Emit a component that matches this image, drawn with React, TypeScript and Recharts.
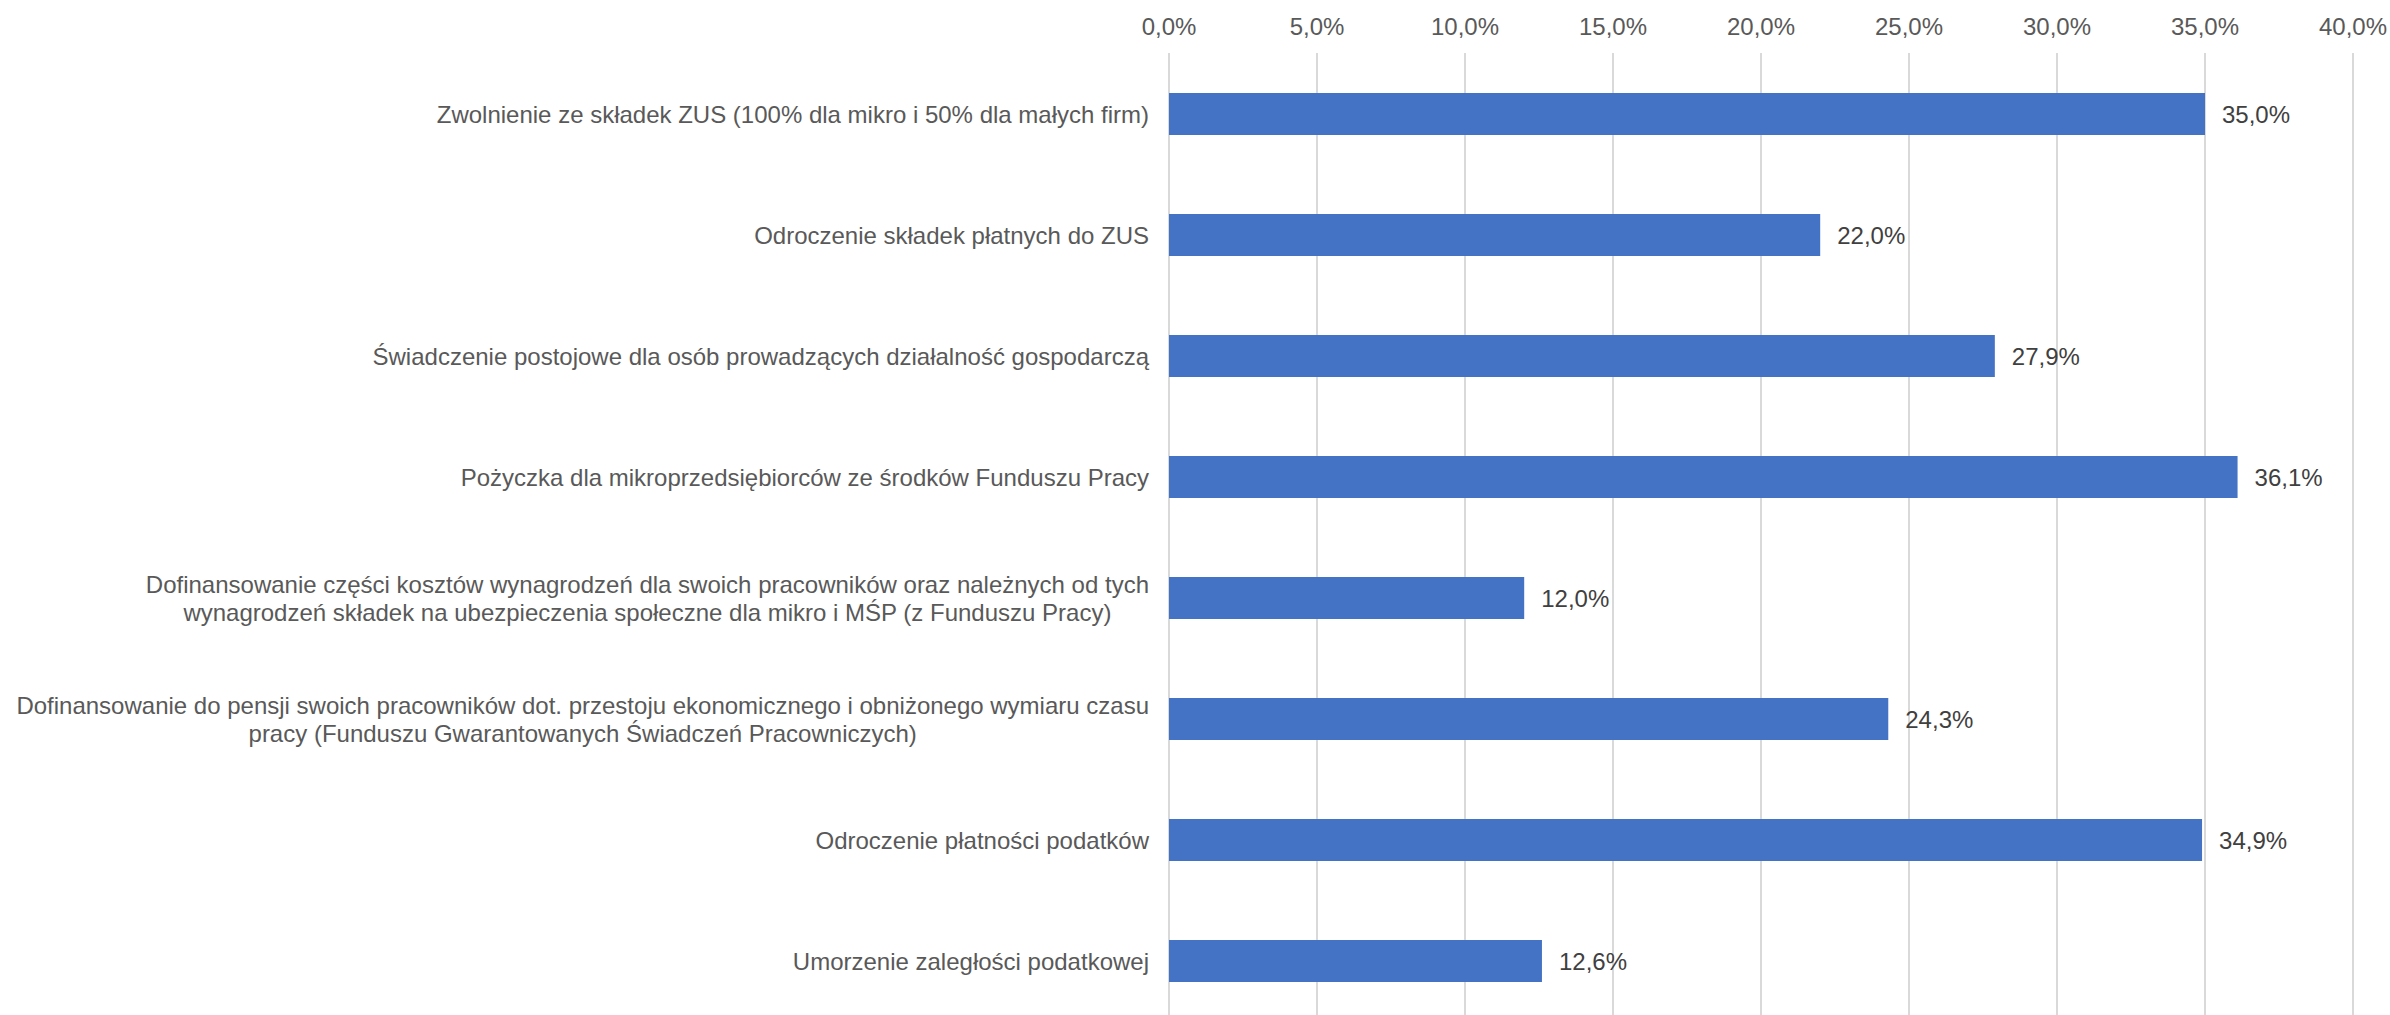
import React from "react"
import { Bar, BarChart, CartesianGrid, LabelList, XAxis, YAxis } from "recharts"

const categories = [
  "Zwolnienie ze składek ZUS (100% dla mikro i 50% dla małych firm)",
  "Odroczenie składek płatnych do ZUS",
  "Świadczenie postojowe dla osób prowadzących działalność gospodarczą",
  "Pożyczka dla mikroprzedsiębiorców ze środków Funduszu Pracy",
  "Dofinansowanie części kosztów wynagrodzeń dla swoich pracowników oraz należnych od tych\nwynagrodzeń składek na ubezpieczenia społeczne dla mikro i MŚP (z Funduszu Pracy)",
  "Dofinansowanie do pensji swoich pracowników dot. przestoju ekonomicznego i obniżonego wymiaru czasu\npracy (Funduszu Gwarantowanych Świadczeń Pracowniczych)",
  "Odroczenie płatności podatków",
  "Umorzenie zaległości podatkowej",
]
const values = [35.0, 22.0, 27.9, 36.1, 12.0, 24.3, 34.9, 12.6]
const xTicks = [0, 5, 10, 15, 20, 25, 30, 35, 40]

const data = categories.map((name, i) => ({ name, value: values[i] }))

const FONT = "'Liberation Sans', Arial, sans-serif"
const fmt = (v: number) => v.toFixed(1).replace(".", ",") + "%"

let ctx: CanvasRenderingContext2D | null = null
function measure(s: string) {
  if (!ctx) ctx = document.createElement("canvas").getContext("2d")
  if (!ctx) return s.length * 12
  ctx.font = `24px ${FONT}`
  return ctx.measureText(s).width
}

// multi-line labels: block right-aligned, lines centred on each other
const CategoryTick = (props: any) => {
  const { x, y, payload } = props
  const lines: string[] = String(payload.value).split("\n")
  const w = Math.max(...lines.map(measure))
  const lh = 28
  const start = y - ((lines.length - 1) * lh) / 2
  return (
    <text x={x - w / 2} y={start} textAnchor="middle" dominantBaseline="central" fill="#595959" fontSize={24} fontFamily={FONT}>
      {lines.map((l, i) => (
        <tspan key={i} x={x - w / 2} y={start + i * lh}>{l}</tspan>
      ))}
    </text>
  )
}

export default function App() {
  return (
    <div style={{ position: "absolute", left: 0, top: 0, width: 2390, height: 1015, overflow: "hidden", background: "#fff" }}>
      <BarChart
        width={2390}
        height={1021}
        data={data}
        layout="vertical"
        margin={{ top: 0, right: 37, bottom: 0, left: 0 }}
        barSize={42}
      >
        <CartesianGrid horizontal={false} stroke="#D9D9D9" strokeWidth={2} />
        <XAxis
          type="number"
          orientation="top"
          domain={[0, 40]}
          ticks={xTicks}
          tickFormatter={fmt}
          axisLine={false}
          tickLine={false}
          tickSize={0}
          tickMargin={18}
          height={53}
          interval={0}
          tick={{ fill: "#595959", fontSize: 24, fontFamily: FONT }}
        />
        <YAxis
          type="category"
          dataKey="name"
          width={1169}
          axisLine={false}
          tickLine={false}
          tickSize={0}
          tickMargin={20}
          interval={0}
          tick={<CategoryTick />}
        />
        <Bar dataKey="value" fill="#4472C4" isAnimationActive={false}>
          <LabelList
            dataKey="value"
            position="right"
            offset={17}
            formatter={(v: any) => fmt(Number(v))}
            fill="#404040"
            fontSize={24}
            fontFamily={FONT}
          />
        </Bar>
      </BarChart>
    </div>
  )
}
